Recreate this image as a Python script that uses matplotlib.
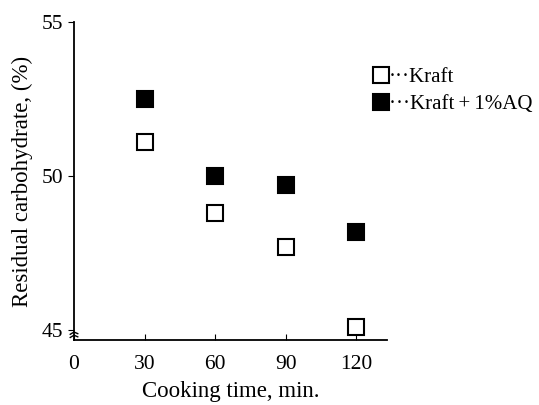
import numpy as np
import matplotlib
matplotlib.use('Agg')
import matplotlib.pyplot as plt

plt.rcParams['font.family'] = ['Liberation Serif', 'DejaVu Serif']

time_min = [30, 60, 90, 120]
kraft = [51.1, 48.8, 47.7, 45.1]
kraft_aq = [52.5, 50.0, 49.7, 48.2]
x_ticks = [0, 30, 60, 90, 120]
y_ticks = [45, 50, 55]

fig = plt.figure(figsize=(5.39, 4.05), dpi=100)
ax = fig.add_axes([74/539, 1-340/405, 313/539, 318/405])

ms = 11
ax.plot(time_min, kraft, 's', ms=ms, mfc='white', mec='black', mew=1.5,
        ls='none', label='···Kraft', clip_on=False)
ax.plot(time_min, kraft_aq, 's', ms=ms, mfc='black', mec='black', mew=1.5,
        ls='none', label='···Kraft\u2009+\u20091%AQ', clip_on=False)

ax.set_xlim(0, 133)
ax.set_ylim(44.68, 55)
ax.set_xticks(x_ticks)
ax.set_yticks(y_ticks)

for s in ['top', 'right']:
    ax.spines[s].set_visible(False)
for s in ['left', 'bottom']:
    ax.spines[s].set_linewidth(1.3)
ax.tick_params(axis='x', direction='in', length=4, labelsize=15.5, pad=11)
ax.tick_params(axis='y', direction='out', length=4, labelsize=15.5, pad=4)

ax.set_xlabel('Cooking time, min.', fontsize=16.5, labelpad=5)
ax.set_ylabel('Residual carbohydrate, (%)', fontsize=16.5, labelpad=6)

# axis break marks near the bottom of the y axis
for dy in [0.012, 0.022]:
    ax.plot([-0.012, 0.0, 0.012], [dy - 0.004, dy + 0.003, dy - 0.002],
            transform=ax.transAxes, color='black', lw=1, clip_on=False)

leg = fig.legend(loc='upper left', bbox_to_anchor=(364/539, 1-59/405),
                 frameon=False, fontsize=15, handletextpad=0.0,
                 handlelength=0.8, labelspacing=0.35, borderaxespad=0)

fig.savefig('out.png', dpi=100)
